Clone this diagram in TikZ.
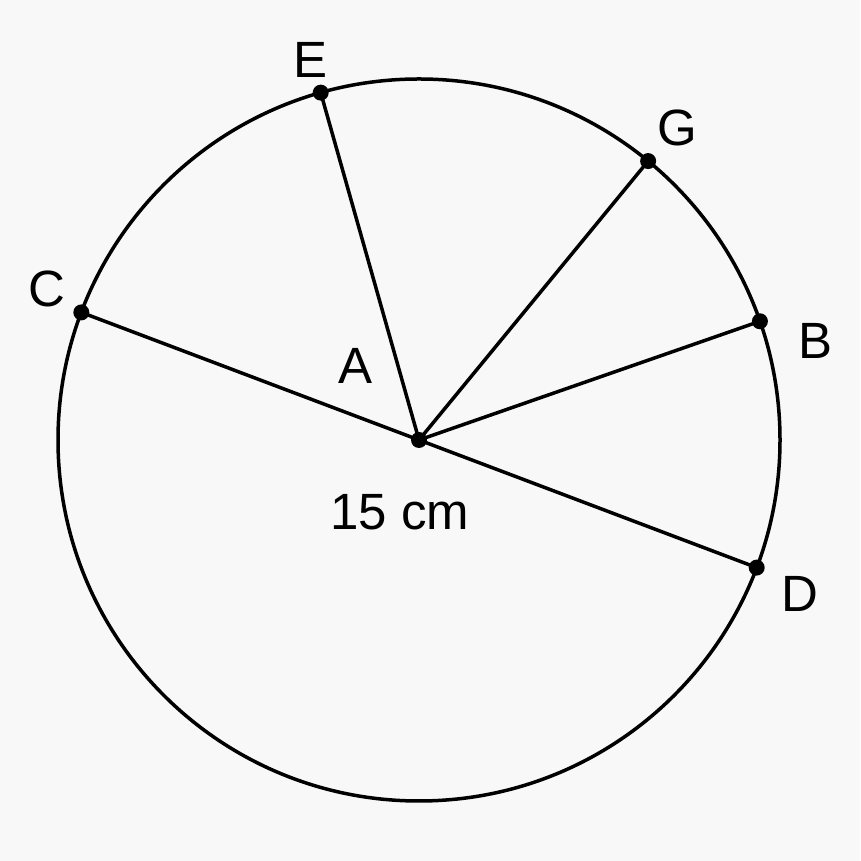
\documentclass[tikz,border=0pt]{standalone}
\usepackage{fontspec}
\setmainfont{Liberation Sans}
\definecolor{bg}{HTML}{F8F8F8}
\begin{document}
\begin{tikzpicture}[x=1pt,y=1pt,
  lbl/.style={font=\fontsize{51}{51}\selectfont, inner sep=0pt, anchor=center},
  seg/.style={line width=3.5pt},
  dotpt/.style={circle, fill=black, inner sep=0pt, minimum size=16pt}]
\fill[bg] (0,0) rectangle (860,861);
\useasboundingbox (0,0) rectangle (860,861);
\coordinate (A) at (419,421);
\draw[seg] (A) circle (361);
\path (A) ++(105.8:361) coordinate (E)
      (A) ++(50.6:361) coordinate (G)
      (A) ++(159.3:361) coordinate (C)
      (A) ++(19.2:361) coordinate (B)
      (A) ++(-20.7:361) coordinate (D);
\foreach \p in {E,G,C,B,D} \draw[seg] (A) -- (\p);
\foreach \p in {A,E,G,C,B,D} \node[dotpt] (d\p) at (\p) {};
\node[lbl] (lE) at (311,801) {E};
\node[lbl] (lG) at (677,733) {G};
\node[lbl] (lC) at (47,572) {C};
\node[lbl] (lB) at (815,520) {B};
\node[lbl] (lD) at (800,267) {D};
\node[lbl] (lA) at (355.5,495.5) {A};
\node[lbl] (lr) at (400,349) {15 cm};
\end{tikzpicture}
\end{document}
